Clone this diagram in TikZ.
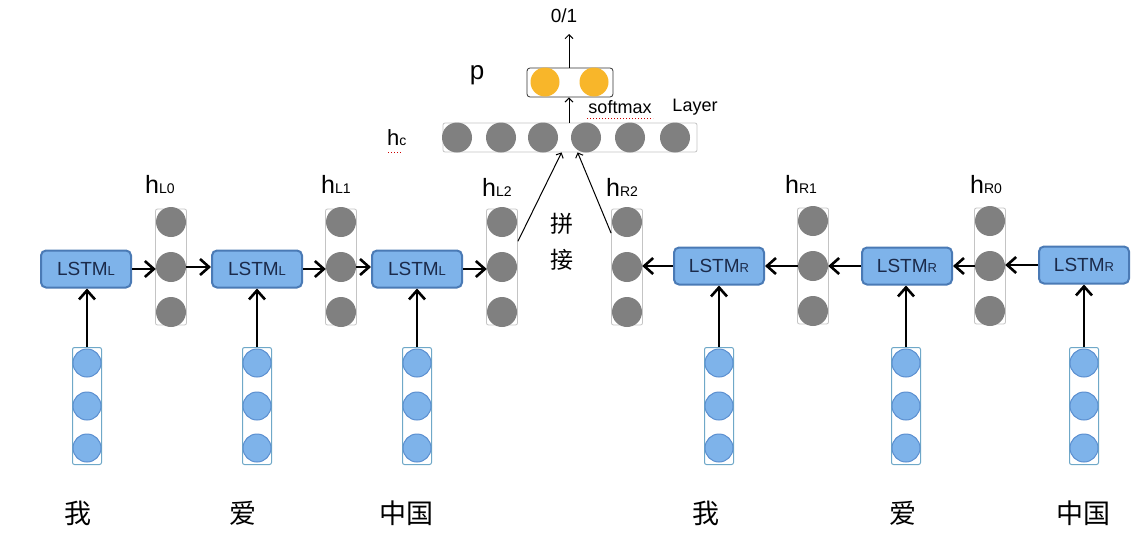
\documentclass[tikz,border=0pt]{standalone}
\usepackage{fontspec}
\setmainfont{Liberation Sans}
\newfontfamily\cjk{Noto Sans CJK SC}
\usetikzlibrary{arrows.meta,calc}
\definecolor{lstmfill}{HTML}{7EB3EA}
\definecolor{lstmdraw}{HTML}{4A7AB5}
\definecolor{lstmtext}{HTML}{1B2A4A}
\definecolor{gcol}{HTML}{808080}
\definecolor{grectcol}{HTML}{C4C4C4}
\definecolor{bcirc}{HTML}{7EB3EA}
\definecolor{bcircdraw}{HTML}{5B8FD0}
\definecolor{brect}{HTML}{6FA8C8}
\definecolor{orangec}{HTML}{F8B62A}
\newcommand{\myhlab}[1]{{\fontsize{25}{25}\selectfont h}{\fontsize{14}{14}\selectfont #1}}
\newcommand{\mylstm}[1]{{\fontsize{19}{19}\selectfont LSTM}{\fontsize{13}{13}\selectfont #1}}
\newcommand{\grayvec}[3]{%
  \node[grect] (#1) at (#2,#3) {};
  \node[gcirc] (#1-1) at (#2,#3-45) {};
  \node[gcirc] (#1-2) at (#2,#3) {};
  \node[gcirc] (#1-3) at (#2,#3+45) {};
}
\newcommand{\bluevec}[3]{%
  \node[brectst] (#1) at (#2,#3) {};
  \node[bcircst] (#1-1) at (#2,#3-43) {};
  \node[bcircst] (#1-2) at (#2,#3) {};
  \node[bcircst] (#1-3) at (#2,#3+42) {};
}
\begin{document}
\begin{tikzpicture}[x=1pt,y=-1pt,
  lstmbox/.style={draw=lstmdraw, fill=lstmfill, line width=2pt, rounded corners=5pt,
    minimum width=90pt, minimum height=37pt, inner sep=0pt, text=lstmtext},
  grect/.style={draw=grectcol, line width=0.8pt, rounded corners=2pt, minimum width=31pt, minimum height=116pt, inner sep=0pt},
  gcirc/.style={circle, fill=gcol, minimum size=30pt, inner sep=0pt},
  brectst/.style={draw=brect, line width=1pt, rounded corners=2pt, minimum width=29pt, minimum height=117pt, inner sep=0pt},
  bcircst/.style={circle, fill=bcirc, draw=bcircdraw, line width=1pt, minimum size=28pt, inner sep=0pt},
  ocirc/.style={circle, fill=orangec, minimum size=29pt, inner sep=0pt},
  thick arr/.style={line width=2.6pt, -{Straight Barb[length=9pt,width=16pt,line width=2.6pt]}},
  thin arr/.style={line width=1pt, -{Straight Barb[length=4pt,width=8pt,line width=1pt]}},
  lab/.style={inner sep=0pt},
  hlabst/.style={inner sep=0pt, anchor=base west},
  cn/.style={inner sep=0pt, font=\cjk\fontsize{27}{27}\selectfont},
]
\useasboundingbox (0,0) rectangle (1146,557);
\fill[white] (0,0) rectangle (1146,557);

% LSTM boxes
\node[lstmbox] (lL1) at (86,269) {\mylstm{L}};
\node[lstmbox] (lL2) at (257,269) {\mylstm{L}};
\node[lstmbox] (lL3) at (417,269) {\mylstm{L}};
\node[lstmbox] (lR1) at (719,266) {\mylstm{R}};
\node[lstmbox] (lR2) at (907,266) {\mylstm{R}};
\node[lstmbox] (lR3) at (1084,265) {\mylstm{R}};

% hidden vectors
\grayvec{hL0}{171}{267}
\grayvec{hL1}{341}{267}
\grayvec{hL2}{502}{267}
\grayvec{hR2}{627}{267}
\grayvec{hR1}{813}{266}
\grayvec{hR0}{990}{266}

% hidden labels
\node[hlabst] (thL0) at (145,193) {\myhlab{L0}};
\node[hlabst] (thL1) at (321,193) {\myhlab{L1}};
\node[hlabst] (thL2) at (482,196) {\myhlab{L2}};
\node[hlabst] (thR2) at (606,196) {\myhlab{R2}};
\node[hlabst] (thR1) at (785,193) {\myhlab{R1}};
\node[hlabst] (thR0) at (970,193) {\myhlab{R0}};

% input vectors
\bluevec{x1}{87}{406}
\bluevec{x2}{257}{406}
\bluevec{x3}{417}{406}
\bluevec{x4}{719}{406}
\bluevec{x5}{906}{406}
\bluevec{x6}{1084}{406}

% words
\node[cn] (w1) at (78,513) {我};
\node[cn] (w2) at (243,513) {爱};
\node[cn] (w3) at (406,513) {中国};
\node[cn] (w4) at (706,513) {我};
\node[cn] (w5) at (903,513) {爱};
\node[cn] (w6) at (1083,513) {中国};

% input arrows
\foreach \i/\l in {1/lL1,2/lL2,3/lL3,4/lR1,5/lR2,6/lR3}
  \draw[thick arr] (x\i.north) -- (x\i.north |- \l.south);

% left chain
\draw[thick arr] (lL1.east) -- (lL1.east -| hL0-2.west);
\draw[thick arr] (hL0-2.east) -- (hL0-2.east -| lL2.west);
\draw[thick arr] (lL2.east) -- (lL2.east -| hL1-2.west);
\draw[thick arr] (hL1-2.east) -- (hL1-2.east -| lL3.west);
\draw[thick arr] (lL3.east) -- (lL3.east -| hL2-2.west);
% right chain
\draw[thick arr] (lR3.west) -- (lR3.west -| hR0-2.east);
\draw[thick arr] (hR0-2.west) -- (hR0-2.west -| lR2.east);
\draw[thick arr] (lR2.west) -- (lR2.west -| hR1-2.east);
\draw[thick arr] (hR1-2.west) -- (hR1-2.west -| lR1.east);
\draw[thick arr] (lR1.west) -- (lR1.west -| hR2-2.east);

% concatenated vector hc
\node[draw=grectcol, line width=0.8pt, rounded corners=2pt, minimum width=254pt, minimum height=29pt, inner sep=0pt] (hc) at (570,137.5) {};
\foreach \k/\xx in {1/457,2/501,3/543,4/586,5/630,6/675}
  \node[gcirc] (hc-\k) at (\xx,137.5) {};
\node[hlabst] (thc) at (387,145) {{\fontsize{22}{22}\selectfont h}{\fontsize{14}{14}\selectfont c}};
\draw[red!80!black, line width=1pt, dotted] (388,152) -- (403,152);

% concat arrows
\coordinate (cL) at ($(hL2.north east)!0.28!(hL2.south east)$);
\coordinate (cR) at ($(hR2.north west)!0.21!(hR2.south west)$);
\coordinate (hcL) at ($(hc.south west)+(119,0)$);
\coordinate (hcR) at ($(hc.south west)+(135,0)$);
\draw[thin arr] (cL) -- (hcL);
\draw[thin arr] (cR) -- (hcR);
\node[cn, font=\cjk\fontsize{23}{23}\selectfont] (pin) at (562,224) {拼};
\node[cn, font=\cjk\fontsize{23}{23}\selectfont] (jie) at (562,260) {接};

% p layer
\node[draw=black!80, line width=0.8pt, rounded corners=3pt, minimum width=86pt, minimum height=29pt, inner sep=0pt] (pbox) at (570,82.5) {};
\node[ocirc] (p1) at (545,82) {};
\node[ocirc] (p2) at (594,82) {};
\node[lab, font=\fontsize{26}{26}\selectfont] (tp) at (477,75) {p};
\draw[thin arr] (hc.north -| 569,0) -- (pbox.south -| 569,0);
\coordinate (outtop) at (569,34);
\draw[thin arr] (pbox.north -| 569,0) -- (outtop);
\node[lab, font=\fontsize{19}{19}\selectfont] (t01) at (564,16) {0/1};
\node[lab, font=\fontsize{18}{18}\selectfont] (tsm) at (620,107) {softmax};
\node[lab, font=\fontsize{18}{18}\selectfont] (tly) at (695,107) {Layer};
\draw[red!80!black, line width=1pt, dotted] (587,118) -- (653,118);
\end{tikzpicture}
\end{document}
